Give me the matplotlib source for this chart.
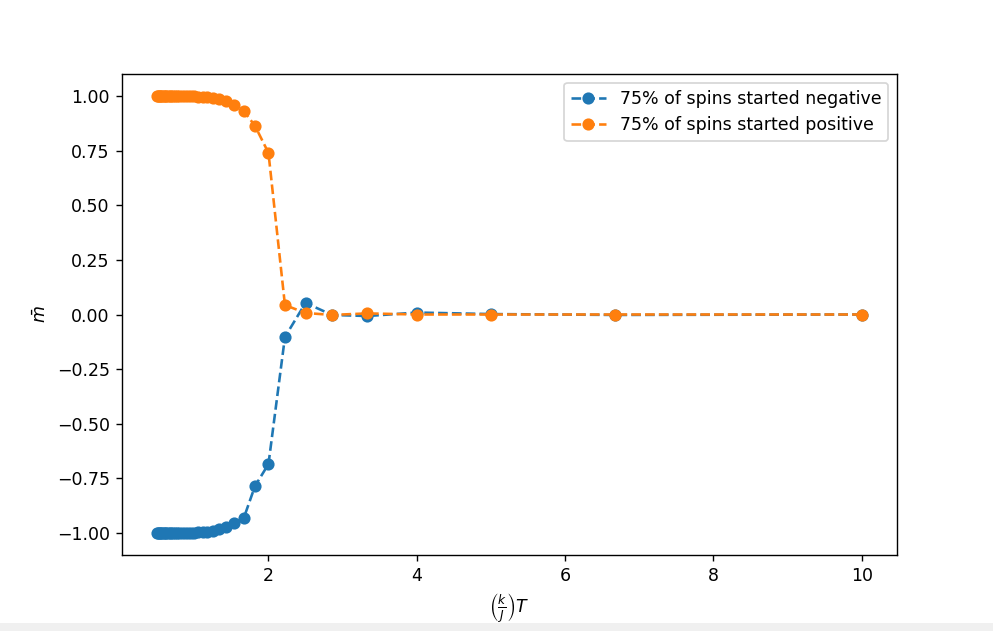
import matplotlib
matplotlib.use('agg')
import matplotlib.pyplot as plt
from matplotlib.patches import Rectangle

# temperatures (k/J)T, from high to low
temps = [10.0, 6.667, 5.0, 4.0, 3.333, 2.857, 2.5, 2.222, 2.0, 1.818,
         1.667, 1.538, 1.429, 1.333, 1.25, 1.176, 1.111, 1.053, 1.0, 0.952,
         0.909, 0.87, 0.833, 0.8, 0.769, 0.741, 0.714, 0.69, 0.667, 0.645,
         0.625, 0.606, 0.588, 0.571, 0.556, 0.541, 0.526, 0.513, 0.5]

# mean magnetisation, 75% of spins started negative
m_neg = [0.0, -0.002, 0.002, 0.009, -0.007, -0.002, 0.053, -0.103, -0.684, -0.785,
         -0.931, -0.954, -0.973, -0.983, -0.989, -0.993, -0.996, -0.997, -0.998, -0.999,
         -0.999, -1.0, -1.0, -1.0, -1.0, -1.0, -1.0, -1.0, -1.0, -1.0,
         -1.0, -1.0, -1.0, -1.0, -1.0, -1.0, -1.0, -1.0, -1.0]

# mean magnetisation, 75% of spins started positive
m_pos = [0.0, 0.0, 0.0, 0.0, 0.005, -0.002, 0.007, 0.043, 0.739, 0.863,
         0.931, 0.959, 0.977, 0.984, 0.989, 0.993, 0.995, 0.997, 0.998, 0.999,
         0.999, 1.0, 1.0, 1.0, 1.0, 1.0, 1.0, 1.0, 1.0, 1.0,
         1.0, 1.0, 1.0, 1.0, 1.0, 1.0, 1.0, 1.0, 1.0]

DPI = 125
fig = plt.figure(figsize=(993 / DPI, 631 / DPI), dpi=DPI)
ax = fig.add_axes([122 / 993, (631 - 555) / 631, (897 - 122) / 993, (555 - 74) / 631])

ax.plot(temps, m_neg, 'o--', label='75% of spins started negative')
ax.plot(temps, m_pos, 'o--', label='75% of spins started positive')

ax.set_xlabel(r'$\left(\frac{k}{J}\right)T$')
ax.set_ylabel(r'$\bar{m}$')
ax.set_xticks([2, 4, 6, 8, 10])
ax.legend(loc='upper right')

# grey strip along the bottom edge of the screenshot
fig.patches.append(Rectangle((0, 0), 1, 8 / 631, transform=fig.transFigure,
                             facecolor='#f0f0f0', edgecolor='none'))

plt.savefig('out.png', dpi=DPI)
